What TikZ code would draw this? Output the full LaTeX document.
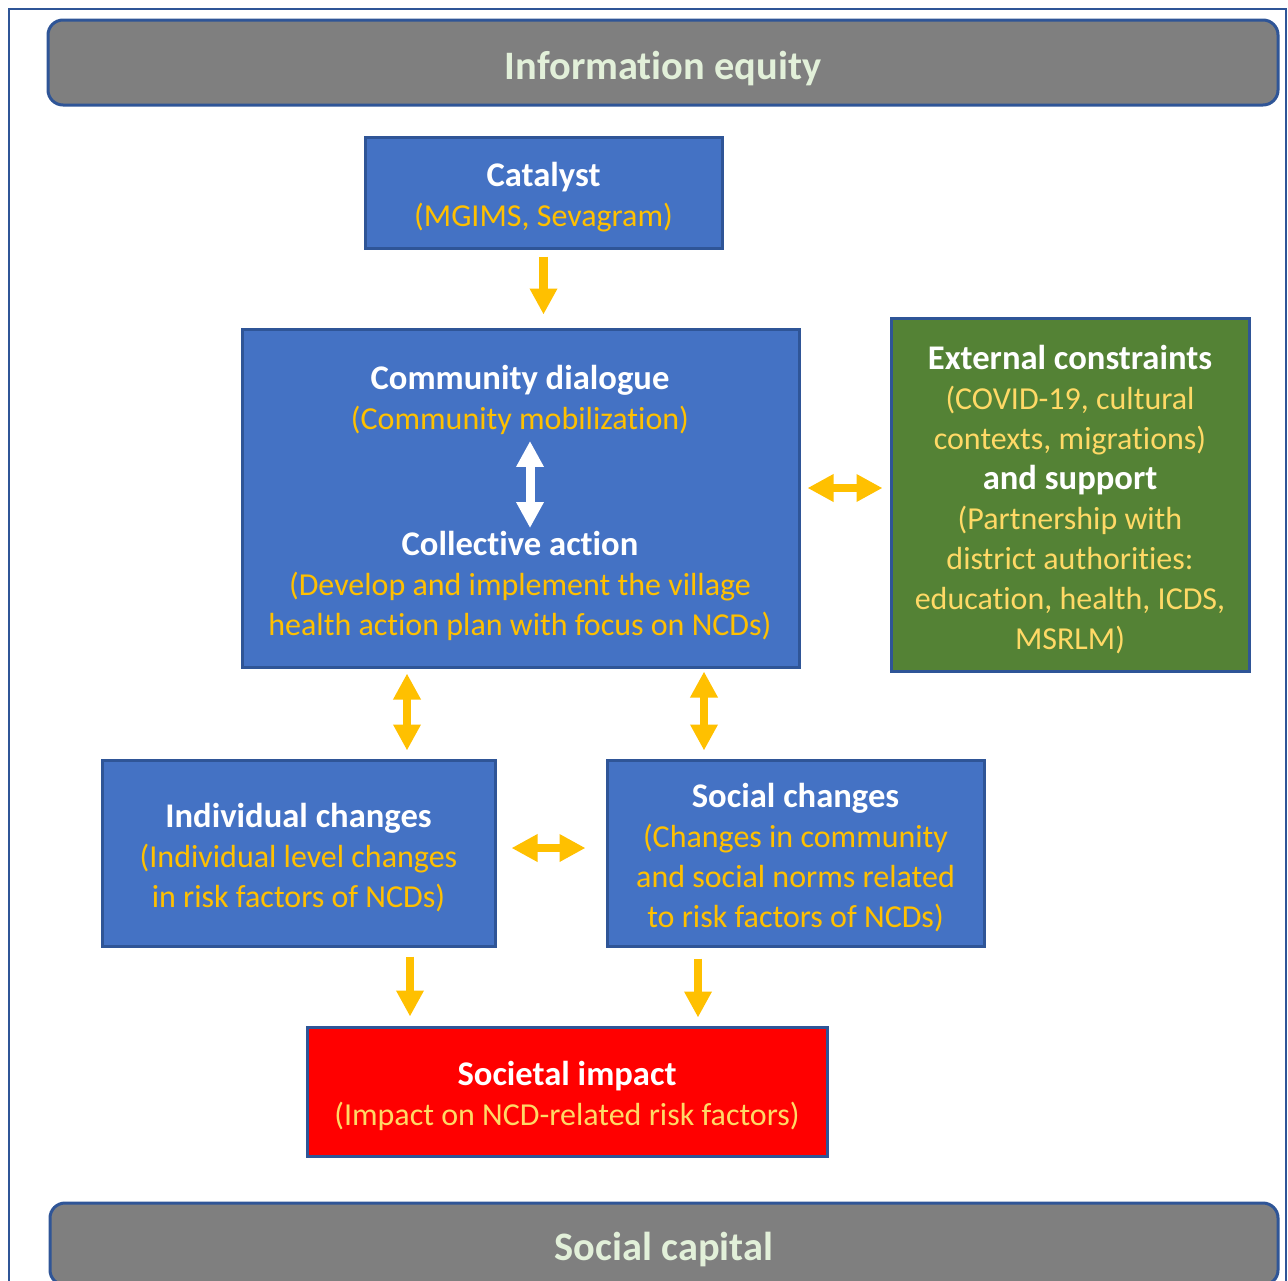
\documentclass[tikz,border=0pt]{standalone}
\usepackage{fontspec}
\setmainfont{Carlito}[Ligatures=NoCommon]
\definecolor{frame}{HTML}{2F5597}
\definecolor{boxblue}{HTML}{4472C4}
\definecolor{boxgreen}{HTML}{548235}
\definecolor{boxred}{HTML}{FF0000}
\definecolor{bandgray}{HTML}{7F7F7F}
\definecolor{gold}{HTML}{FFC000}
\definecolor{paleglow}{HTML}{FFD966}
\definecolor{palegreen}{HTML}{E2F0D9}
\usetikzlibrary{arrows.meta, positioning, calc}

\newcommand{\boxtitle}[1]{\rule{0pt}{17pt}{\fontsize{17.3pt}{20pt}\selectfont\bfseries #1}}
\newcommand{\bandtitle}[1]{\rule{0pt}{20pt}#1}

\tikzset{
  box/.style={draw=frame, line width=1.5pt, fill=boxblue, align=center,
    inner sep=0pt, text=white, font=\fontsize{16pt}{20pt}\selectfont},
  txt/.style={align=center, inner sep=0pt, text=white,
    font=\fontsize{16pt}{20pt}\selectfont},
  band/.style={draw=frame, line width=1.5pt, fill=bandgray, rounded corners=7.5pt,
    text=palegreen, font=\fontsize{20.2pt}{24pt}\selectfont\bfseries},
  tip/.tip={Triangle[length=13pt, width=13pt]},
  garrow/.style={draw=gold, line width=4.2pt, -tip},
  gboth/.style={draw=gold, line width=4.2pt, tip-tip},
}

\begin{document}
\begin{tikzpicture}[x=0.5pt, y=-0.5pt]
    \useasboundingbox (0,0) rectangle (1288,1280);
    \fill[white] (0,0) rectangle (1288,1280);
    \draw[frame, line width=1.2pt] (9,9) rectangle (1286,1320);

    % bands
    \node[band, minimum width=615pt, minimum height=42.5pt] (info) at (663,62.5) {\bandtitle{Information equity}};
    \node[band, minimum width=614pt, minimum height=41pt] (capital) at (664,1244) {\bandtitle{Social capital}};

    % boxes
    \node[box, minimum width=178.5pt, minimum height=55.5pt] (cat) at (543.5,192.5)
      {\boxtitle{Catalyst}\\\textcolor{gold}{(MGIMS, Sevagram)}};
    \node[box, minimum width=278.5pt, minimum height=169pt] (comm) at (520.5,498) {};
    \node[txt] (dlg) at (520,395)
      {\boxtitle{Community dialogue}\\\textcolor{gold}{(Community mobilization)}};
    \node[txt] (act) at (520,581)
      {\boxtitle{Collective action}\\\textcolor{gold}{(Develop and implement the village}\\
       \textcolor{gold}{health action plan with focus on NCDs)}};
    \node[box, fill=boxgreen, minimum width=179pt, minimum height=176.5pt] (ext) at (1070,494.5)
      {\boxtitle{External constraints}\\\textcolor{paleglow}{(COVID-19, cultural}\\
       \textcolor{paleglow}{contexts, migrations)}\\\boxtitle{and support}\\
       \textcolor{paleglow}{(Partnership with}\\\textcolor{paleglow}{district authorities:}\\
       \textcolor{paleglow}{education, health, ICDS,}\\\textcolor{paleglow}{MSRLM)}};
    \node[box, minimum width=196.5pt, minimum height=93pt] (ind) at (298.5,853)
      {\boxtitle{Individual changes}\\\textcolor{gold}{(Individual level changes}\\
       \textcolor{gold}{in risk factors of NCDs)}};
    \node[box, minimum width=188.5pt, minimum height=93pt] (soc) at (795.5,853)
      {\boxtitle{Social changes}\\\textcolor{gold}{(Changes in community}\\
       \textcolor{gold}{and social norms related}\\\textcolor{gold}{to risk factors of NCDs)}};
    \node[box, fill=boxred, minimum width=260pt, minimum height=64.5pt] (impact) at (567,1091.5)
      {\boxtitle{Societal impact}\\\textcolor{paleglow}{(Impact on NCD-related risk factors)}};

    % arrow lines
    \coordinate (wx) at (530,0);
    \coordinate (lx) at (407,0);
    \coordinate (rx) at (704,0);
    \coordinate (dlx) at (410,0);
    \coordinate (drx) at (698,0);
    \coordinate (hy) at (0,488);
    \coordinate (my) at (0,848);

    \draw[garrow, shorten <=3.5pt, shorten >=6.5pt] (cat.south) -- (cat.south |- comm.north);
    \draw[white, line width=4.5pt, tip-tip, shorten <=3pt, shorten >=-3.5pt]
      (dlg.south -| wx) -- (act.north -| wx);
    \draw[gboth, shorten <=3.5pt, shorten >=3.5pt] (comm.east |- hy) -- (ext.west |- hy);
    \draw[gboth, shorten <=2.5pt, shorten >=4pt] (comm.south -| lx) -- (ind.north -| lx);
    \draw[gboth, shorten <=1.5pt, shorten >=4pt] (comm.south -| rx) -- (soc.north -| rx);
    \draw[gboth, shorten <=7.5pt, shorten >=10pt] (ind.east |- my) -- (soc.west |- my);
    \draw[garrow, shorten <=4.5pt, shorten >=4.5pt] (ind.south -| dlx) -- (impact.north -| dlx);
    \draw[garrow, shorten <=5.5pt, shorten >=4pt] (soc.south -| drx) -- (impact.north -| drx);
\end{tikzpicture}
\end{document}
